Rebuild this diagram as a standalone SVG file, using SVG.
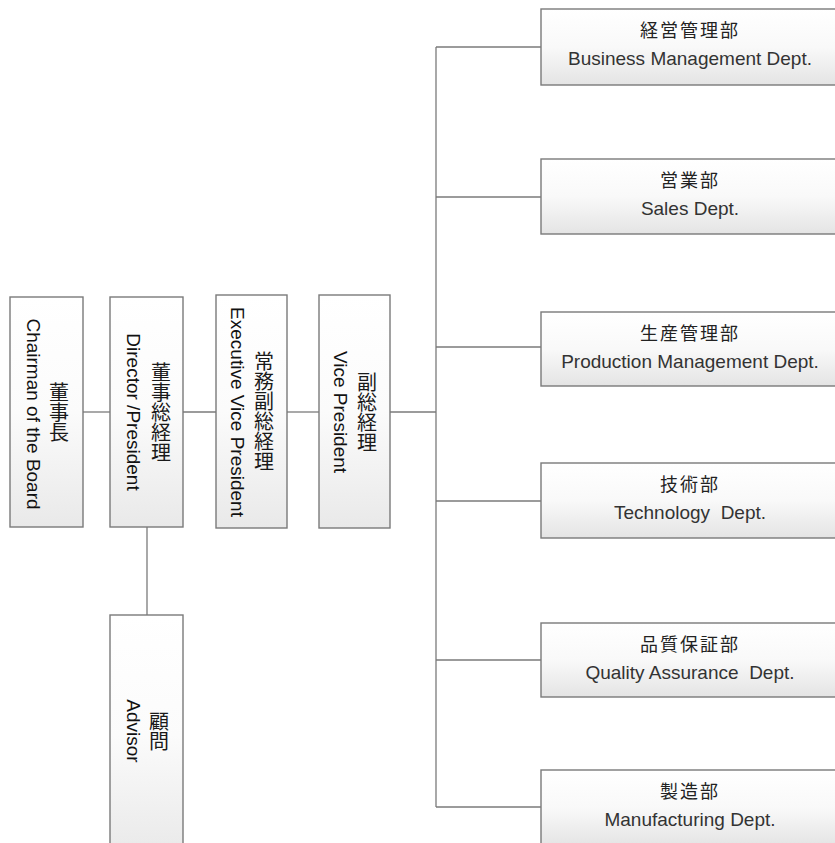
<svg xmlns="http://www.w3.org/2000/svg" width="835" height="843" viewBox="0 0 835 843">
<defs>
<linearGradient id="gv" x1="0" y1="0" x2="0" y2="1">
<stop offset="0" stop-color="#ffffff"/>
<stop offset="0.5" stop-color="#fbfbfb"/>
<stop offset="1" stop-color="#e9e9e9"/>
</linearGradient>
<linearGradient id="gh" x1="0" y1="0" x2="0" y2="1">
<stop offset="0" stop-color="#ffffff"/>
<stop offset="0.5" stop-color="#f9f9f9"/>
<stop offset="1" stop-color="#e4e4e4"/>
</linearGradient>
</defs>
<style>
.box{stroke:#7a7a7a;stroke-width:1.4}
.v{fill:url(#gv)}
.h{fill:url(#gh)}
.cjkv{font-family:"Noto Sans CJK JP","Noto Sans CJK SC",sans-serif;font-size:20px;fill:#1a1a1a;writing-mode:vertical-rl;text-anchor:middle}
.env{font-family:"Liberation Sans",Arial,sans-serif;font-size:19px;fill:#111;text-anchor:middle}
.cjkh{font-family:"Noto Sans CJK JP","Noto Sans CJK SC",sans-serif;font-size:18px;fill:#222;text-anchor:middle;letter-spacing:2px}
.enh{font-family:"Liberation Sans",Arial,sans-serif;font-size:19px;fill:#333;text-anchor:middle}
.conn{stroke:#7a7a7a;stroke-width:1.3;fill:none}
</style>
<g id="connectors">
<line class="conn" x1="83" y1="412" x2="110" y2="412"/>
<line class="conn" x1="183" y1="412" x2="216" y2="412"/>
<line class="conn" x1="287" y1="412" x2="319" y2="412"/>
<line class="conn" x1="390" y1="412" x2="436" y2="412"/>
<line class="conn" x1="147" y1="527" x2="147" y2="615"/>
<line class="conn" x1="436" y1="47" x2="436" y2="807"/>
<line class="conn" x1="436" y1="47" x2="541" y2="47"/>
<line class="conn" x1="436" y1="197" x2="541" y2="197"/>
<line class="conn" x1="436" y1="347" x2="541" y2="347"/>
<line class="conn" x1="436" y1="501" x2="541" y2="501"/>
<line class="conn" x1="436" y1="660" x2="541" y2="660"/>
<line class="conn" x1="436" y1="807" x2="541" y2="807"/>
</g>
<g id="chairman">
<rect class="box v" x="10" y="297" width="73" height="230"/>
<text class="cjkv" x="59" y="412">董事長</text>
<text class="env" transform="translate(27,414) rotate(90)">Chairman of the Board</text>
</g>
<g id="president">
<rect class="box v" x="110" y="297" width="73" height="230"/>
<text class="cjkv" x="161" y="412">董事総経理</text>
<text class="env" transform="translate(127,412) rotate(90)">Director /President</text>
</g>
<g id="evp">
<rect class="box v" x="216" y="295" width="71" height="233"/>
<text class="cjkv" x="264" y="411">常務副総経理</text>
<text class="env" transform="translate(231,412) rotate(90)">Executive Vice President</text>
</g>
<g id="vp">
<rect class="box v" x="319" y="295" width="71" height="233"/>
<text class="cjkv" x="367" y="412">副総経理</text>
<text class="env" transform="translate(334,412) rotate(90)">Vice President</text>
</g>
<g id="advisor">
<rect class="box v" x="110" y="615" width="73" height="240"/>
<text class="cjkv" x="159" y="731">顧問</text>
<text class="env" transform="translate(127,731) rotate(90)">Advisor</text>
</g>
<g id="business">
<rect class="box h" x="541" y="9" width="306" height="76"/>
<text class="cjkh" x="690" y="37">経営管理部</text>
<text class="enh" x="690" y="65">Business Management Dept.</text>
</g>
<g id="sales">
<rect class="box h" x="541" y="159" width="306" height="75"/>
<text class="cjkh" x="690" y="187">営業部</text>
<text class="enh" x="690" y="215">Sales Dept.</text>
</g>
<g id="production">
<rect class="box h" x="541" y="312" width="306" height="74"/>
<text class="cjkh" x="690" y="340">生産管理部</text>
<text class="enh" x="690" y="368">Production Management Dept.</text>
</g>
<g id="technology">
<rect class="box h" x="541" y="463" width="306" height="75"/>
<text class="cjkh" x="690" y="491">技術部</text>
<text class="enh" x="690" y="519" xml:space="preserve">Technology  Dept.</text>
</g>
<g id="quality">
<rect class="box h" x="541" y="623" width="306" height="74"/>
<text class="cjkh" x="690" y="651">品質保証部</text>
<text class="enh" x="690" y="679" xml:space="preserve">Quality Assurance  Dept.</text>
</g>
<g id="manufacturing">
<rect class="box h" x="541" y="770" width="306" height="76"/>
<text class="cjkh" x="690" y="798">製造部</text>
<text class="enh" x="690" y="826">Manufacturing Dept.</text>
</g>
</svg>
